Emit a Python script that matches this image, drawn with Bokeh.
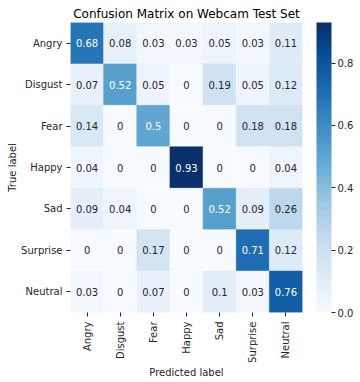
import math
from bokeh.plotting import figure
from bokeh.models import (LinearColorMapper, ColorBar, FixedTicker, ColumnDataSource,
                          PrintfTickFormatter)
from bokeh.palettes import Blues256
from bokeh.embed import file_html
from bokeh.resources import INLINE
from bokeh.core.properties import value

labels = ["Angry", "Disgust", "Fear", "Happy", "Sad", "Surprise", "Neutral"]
angry    = [0.68, 0.08, 0.03, 0.03, 0.05, 0.03, 0.11]
disgust  = [0.07, 0.52, 0.05, 0.00, 0.19, 0.05, 0.12]
fear     = [0.14, 0.00, 0.50, 0.00, 0.00, 0.18, 0.18]
happy    = [0.04, 0.00, 0.00, 0.93, 0.00, 0.00, 0.04]
sad      = [0.09, 0.04, 0.00, 0.00, 0.52, 0.09, 0.26]
surprise = [0.00, 0.00, 0.17, 0.00, 0.00, 0.71, 0.12]
neutral  = [0.03, 0.00, 0.07, 0.00, 0.10, 0.03, 0.76]
rows = [angry, disgust, fear, happy, sad, surprise, neutral]
cbar_ticks = [0.0, 0.2, 0.4, 0.6, 0.8]
title_text = "Confusion Matrix on Webcam Test Set"
xlabel_text = "Predicted label"
ylabel_text = "True label"

FONT = "DejaVu Sans"
DARK = "#262626"

xs, ys, vs, ts, tcs = [], [], [], [], []
for rname, row in zip(labels, rows):
    for cname, v in zip(labels, row):
        xs.append(cname)
        ys.append(rname)
        vs.append(v)
        ts.append(format(v, "g"))
        tcs.append("white" if v >= 0.45 else DARK)
src = ColumnDataSource(dict(x=xs, y=ys, v=vs, t=ts, tc=tcs))

palette = list(reversed(Blues256))
mapper = LinearColorMapper(palette=palette, low=0, high=max(vs))

p = figure(width=360, height=382, x_range=labels, y_range=list(reversed(labels)),
           output_backend="svg", toolbar_location=None,
           min_border_left=70, min_border_right=58, min_border_top=22, min_border_bottom=70,
           title=title_text)
p.rect(x="x", y="y", width=1, height=1, source=src,
       fill_color={"field": "v", "transform": mapper},
       line_color={"field": "v", "transform": mapper}, line_width=0.5)
p.text(x="x", y="y", text="t", text_color="tc", text_align="center", text_baseline="middle",
       text_font=value(FONT), text_font_size="10px", source=src)

p.grid.visible = False
p.outline_line_color = None
p.title.text_font = FONT
p.title.text_font_size = "12px"
p.title.text_font_style = "normal"
p.title.text_color = "black"
p.title.align = "center"
p.title.standoff = 4

for ax in (p.xaxis[0], p.yaxis[0]):
    ax.axis_line_color = None
    ax.major_tick_out = 4
    ax.major_tick_in = 0
    ax.major_tick_line_color = DARK
    ax.major_label_text_font = FONT
    ax.major_label_text_font_size = "10px"
    ax.major_label_text_color = DARK
    ax.axis_label_text_font = FONT
    ax.axis_label_text_font_size = "10px"
    ax.axis_label_text_font_style = "normal"
    ax.axis_label_text_color = DARK
p.xaxis.major_label_orientation = math.pi / 2
p.xaxis.major_label_standoff = 5
p.xaxis.axis_label_standoff = 1
p.yaxis.major_label_standoff = 4
p.yaxis.axis_label_standoff = 0
p.xaxis.axis_label = xlabel_text
p.yaxis.axis_label = ylabel_text

cb = ColorBar(color_mapper=mapper, ticker=FixedTicker(ticks=cbar_ticks),
              formatter=PrintfTickFormatter(format="%.1f"),
              width=15, height=290, location=(14, 0), margin=0, padding=0,
              major_tick_out=4, major_tick_in=0, major_tick_line_color=DARK,
              bar_line_color=None, border_line_color=None, background_fill_color=None,
              major_label_text_font=FONT, major_label_text_font_size="10px",
              major_label_text_color=DARK, label_standoff=2)
p.add_layout(cb, "right")

open("out.html", "w").write(file_html(p, INLINE))
